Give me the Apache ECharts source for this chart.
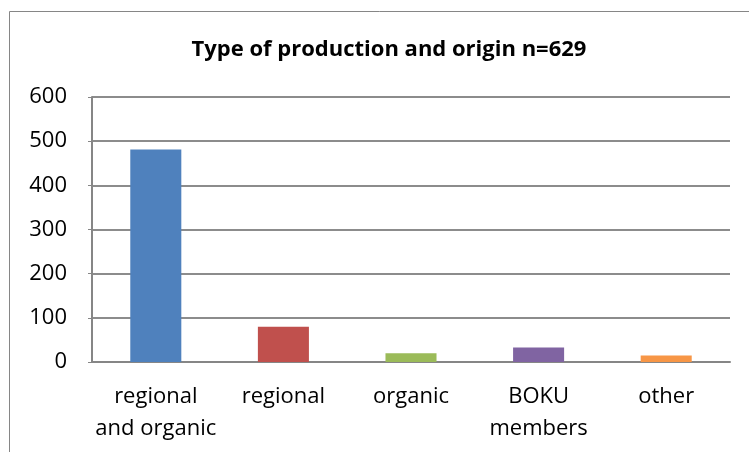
<!DOCTYPE html>
<html>
<head>
<meta charset="utf-8">
<script src="https://cdn.jsdelivr.net/npm/echarts@6/dist/echarts.min.js"></script>
<style>
html,body{margin:0;padding:0;background:#fff;}
#chart{width:749px;height:452px;}
</style>
</head>
<body>
<div id="chart"></div>
<script>
const titleText = "Type of production and origin n=629";
const categories = ["regional\nand organic", "regional", "organic", "BOKU\nmembers", "other"];
const counts = [481, 80, 20, 33, 15];
const barColors = ["#4F81BD", "#C0504D", "#9BBB59", "#8064A2", "#F79646"];
const yTicks = [0, 100, 200, 300, 400, 500, 600];

const FONT = "Open Sans";
const chart = echarts.init(document.getElementById('chart'), null, {renderer: 'canvas'});
chart.setOption({
  animation: false,
  backgroundColor: '#fff',
  graphic: [{
    type: 'rect',
    shape: {x: 9.5, y: 11.5, width: 760, height: 460},
    style: {fill: 'none', stroke: '#868686', lineWidth: 1},
    silent: true, z: 0
  }],
  title: {
    text: titleText,
    left: 384, top: 34,
    textAlign: 'center',
    textStyle: {fontFamily: FONT, fontWeight: 'bold', fontSize: 22, color: '#000'}
  },
  grid: {left: 92, right: 19, top: 97, bottom: 90},
  xAxis: {
    type: 'category',
    data: categories,
    axisLine: {lineStyle: {color: '#868686', width: 2}},
    axisTick: {show: false},
    axisLabel: {fontFamily: FONT, fontSize: 22, color: '#000', margin: 19, lineHeight: 32, interval: 0}
  },
  yAxis: {
    type: 'value',
    min: yTicks[0], max: yTicks[yTicks.length - 1], interval: 100,
    axisLine: {show: true, lineStyle: {color: '#868686', width: 2}},
    axisTick: {show: true, length: 4, lineStyle: {color: '#868686', width: 1}},
    splitLine: {lineStyle: {color: '#8c8c8c', width: 2}},
    axisLabel: {fontFamily: FONT, fontSize: 22, color: '#000', margin: 25}
  },
  series: [{
    type: 'bar',
    barWidth: '40%',
    data: counts.map((v, i) => ({value: v, itemStyle: {color: barColors[i]}}))
  }]
});
</script>
</body>
</html>
